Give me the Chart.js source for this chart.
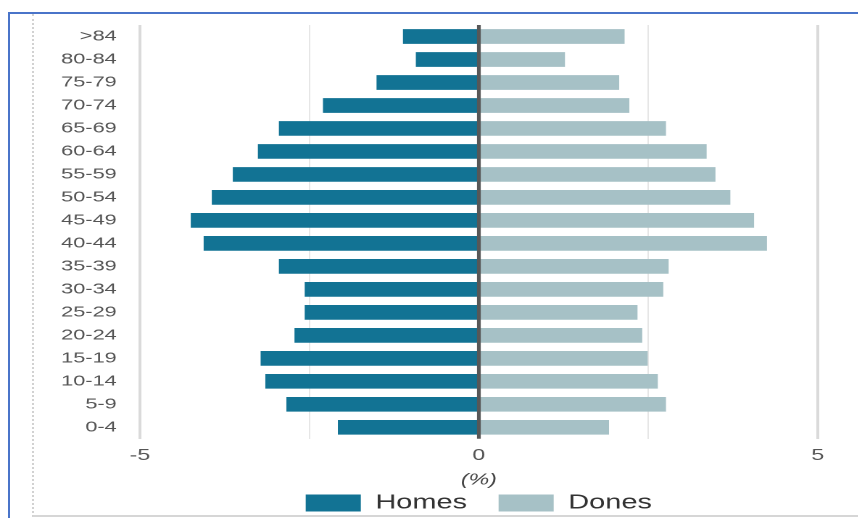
<!doctype html>
<html>

<head>
    <title>Piràmide</title>
    <script src="https://cdn.jsdelivr.net/npm/chart.js"></script>
</head>

<body style="margin:0; background-color:#fff; width:858px; height:518px; overflow:hidden; position:relative">

    <div style="position:absolute; left:8px; top:12px; width:850px; height:506px; border-top:2px solid #4a74c9; border-left:2px solid #4a74c9"></div>
    <div style="position:absolute; left:32px; top:14px; width:826px; height:501px; border-left:2px dotted #d2d2d2; border-bottom:2px solid #d6d6d6"></div>

    <canvas id="piramide" width="592" height="518"
        style="position:absolute; left:0; top:0; transform:scaleX(1.45); transform-origin:0 0"></canvas>

    <script>

        var edats = ['>84', '80-84', '75-79', '70-74', '65-69', '60-64', '55-59', '50-54', '45-49',
            '40-44', '35-39', '30-34', '25-29', '20-24', '15-19', '10-14', '5-9', '0-4'];

        var homes = [-1.12, -0.93, -1.51, -2.30, -2.95, -3.26, -3.63, -3.94, -4.25,
            -4.06, -2.95, -2.57, -2.57, -2.72, -3.22, -3.15, -2.84, -2.08];

        var dones = [2.15, 1.27, 2.07, 2.22, 2.76, 3.36, 3.49, 3.71, 4.06,
            4.25, 2.80, 2.72, 2.34, 2.41, 2.49, 2.64, 2.76, 1.92];

        var marquesEix = [-5, 0, 5];

        // linia del zero per sobre de les barres
        var liniaZero = {
            id: 'liniaZero',
            afterDatasetsDraw(chart) {
                var ctx = chart.ctx;
                var x = chart.scales.x.getPixelForValue(0);
                ctx.save();
                ctx.strokeStyle = '#575757';
                ctx.lineWidth = 2.6;
                ctx.beginPath();
                ctx.moveTo(x, chart.chartArea.top);
                ctx.lineTo(x, chart.chartArea.bottom);
                ctx.stroke();
                ctx.restore();
            }
        };

        var piramide = new Chart(document.getElementById('piramide').getContext('2d'), {
            type: 'bar',
            data: {
                labels: edats,
                datasets: [{
                    label: 'Homes',
                    data: homes,
                    backgroundColor: '#127394'
                }, {
                    label: 'Dones',
                    data: dones,
                    backgroundColor: '#a6c1c6'
                }]
            },
            plugins: [liniaZero],
            options: {
                indexAxis: 'y',
                responsive: false,
                animation: false,
                devicePixelRatio: 2,
                categoryPercentage: 1,
                barPercentage: 0.64,
                layout: {
                    padding: { top: 25, left: 0, right: 28, bottom: -5 }
                },
                scales: {
                    x: {
                        stacked: true,
                        min: -5,
                        max: 5,
                        border: { display: false },
                        grid: {
                            drawTicks: false,
                            color: (c) => c.tick.value == 0 ? 'rgba(0,0,0,0)' :
                                (Math.abs(c.tick.value) == 5 ? '#dadada' : '#e6e6e6'),
                            lineWidth: (c) => Math.abs(c.tick.value) == 5 ? 2 : 1
                        },
                        ticks: {
                            stepSize: 2.5,
                            padding: 7,
                            color: '#555',
                            font: { family: 'Liberation Sans', size: 16 },
                            callback: (v) => marquesEix.includes(v) ? v : ''
                        },
                        title: {
                            display: true,
                            text: '(%)',
                            color: '#444',
                            padding: { top: 0, bottom: 0 },
                            font: { family: 'Liberation Sans', size: 16, style: 'italic', lineHeight: 1 }
                        }
                    },
                    y: {
                        stacked: true,
                        border: { display: false },
                        grid: { display: false, drawTicks: false },
                        afterFit: (s) => { s.width = 96.5; },
                        ticks: {
                            padding: 16,
                            color: '#555',
                            font: { family: 'Liberation Sans', size: 15 }
                        }
                    }
                },
                plugins: {
                    tooltip: { enabled: false },
                    legend: {
                        position: 'bottom',
                        fullSize: false,
                        labels: {
                            boxWidth: 38,
                            boxHeight: 17,
                            padding: 5,
                            color: '#333',
                            font: { family: 'Liberation Sans', size: 20 },
                            generateLabels: (chart) => {
                                var items = Chart.defaults.plugins.legend.labels.generateLabels(chart);
                                items[0].text += '   ';
                                return items;
                            }
                        }
                    }
                }
            }
        });

    </script>
</body>

</html>
